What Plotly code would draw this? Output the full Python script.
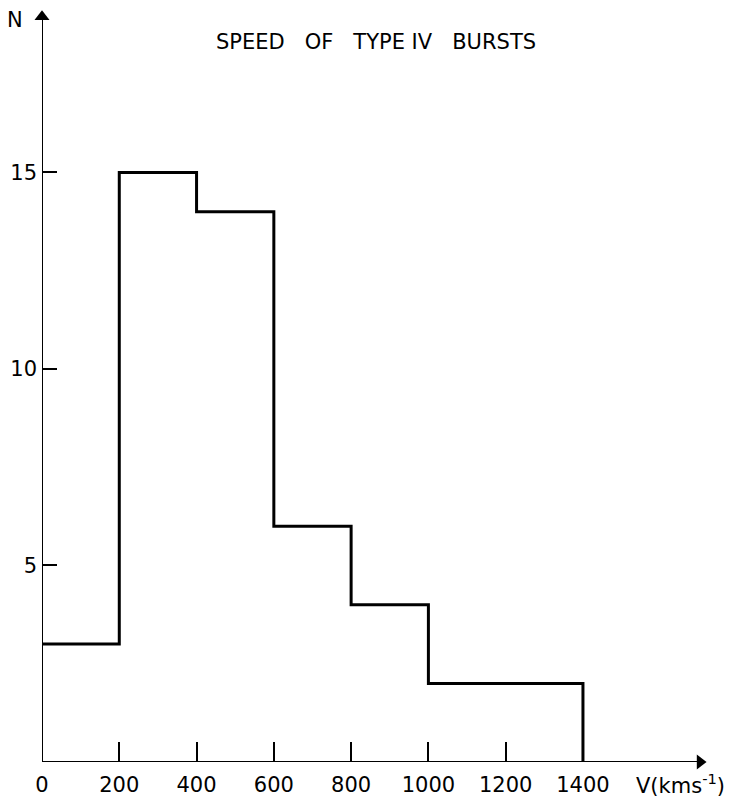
import plotly.graph_objects as go

# Data
bin_edges = [0, 200, 400, 600, 800, 1000, 1200, 1400]
counts = [3, 15, 14, 6, 4, 2, 2]
x_ticks = [0, 200, 400, 600, 800, 1000, 1200, 1400]
x_tick_labels = ["0", "200", "400", "600", "800", "1000", "1200", "1400"]
y_ticks = [5, 10, 15]
y_tick_labels = ["5", "10", "15"]
title_text = "SPEED&nbsp;&nbsp; OF&nbsp;&nbsp; TYPE IV&nbsp;&nbsp; BURSTS"

FONT = "DejaVu Sans, sans-serif"
FS = 21

step_x = bin_edges
step_y = counts + [0]

W, H = 741, 800
ML, MR, MT, MB = 42, 34, 5, 38
pw, ph = W - ML - MR, H - MT - MB
XMAX = 1721
YMAX = 19.26

fig = go.Figure()
fig.add_trace(go.Scatter(
    x=step_x, y=step_y, mode="lines", line_shape="hv",
    line=dict(color="black", width=3), showlegend=False, hoverinfo="skip",
))

# axis lines
fig.add_shape(type="line", xref="x", yref="y", x0=0, y0=0, x1=XMAX - 20, y1=0,
              line=dict(color="black", width=2))
fig.add_shape(type="line", xref="x", yref="y", x0=0, y0=0, x1=0, y1=YMAX - 0.3,
              line=dict(color="black", width=2))
# arrowheads
fig.add_trace(go.Scatter(x=[XMAX - 18], y=[0], mode="markers", cliponaxis=False,
                         marker=dict(symbol="triangle-right", size=13, color="black"),
                         showlegend=False, hoverinfo="skip"))
fig.add_trace(go.Scatter(x=[0], y=[YMAX - 0.3], mode="markers", cliponaxis=False,
                         marker=dict(symbol="triangle-up", size=13, color="black"),
                         showlegend=False, hoverinfo="skip"))


def px_ann(px, py, text, size=FS):
    fig.add_annotation(x=(px - ML) / pw, y=(H - MB - py) / ph, xref="paper", yref="paper",
                       text=text, showarrow=False, xanchor="center", yanchor="middle",
                       font=dict(family=FONT, size=size, color="black"))


px_ann(376, 42, title_text)
px_ann(15, 20, "N")
px_ann(680, 784, "V(kms<sup>-1</sup>)")

fig.update_layout(
    width=W, height=H,
    margin=dict(l=ML, r=MR, t=MT, b=MB, autoexpand=False),
    plot_bgcolor="white", paper_bgcolor="white",
    font=dict(family=FONT, size=FS, color="black"),
    xaxis=dict(range=[0, XMAX], showgrid=False, zeroline=False, showline=False,
               tickvals=x_ticks, ticktext=x_tick_labels, ticks="inside", ticklen=20,
               tickwidth=1.5, tickcolor="black", fixedrange=True, automargin=False,
               ticklabelstandoff=8, tickfont=dict(family=FONT, size=FS)),
    yaxis=dict(range=[0, YMAX], showgrid=False, zeroline=False, showline=False,
               tickvals=y_ticks, ticktext=y_tick_labels, ticks="inside", ticklen=15,
               tickwidth=1.5, tickcolor="black", fixedrange=True, automargin=False,
               ticklabelstandoff=4, tickfont=dict(family=FONT, size=FS)),
)

fig.write_html("out.html", config={"displayModeBar": False},
               post_script="document.body.style.margin='0';")
